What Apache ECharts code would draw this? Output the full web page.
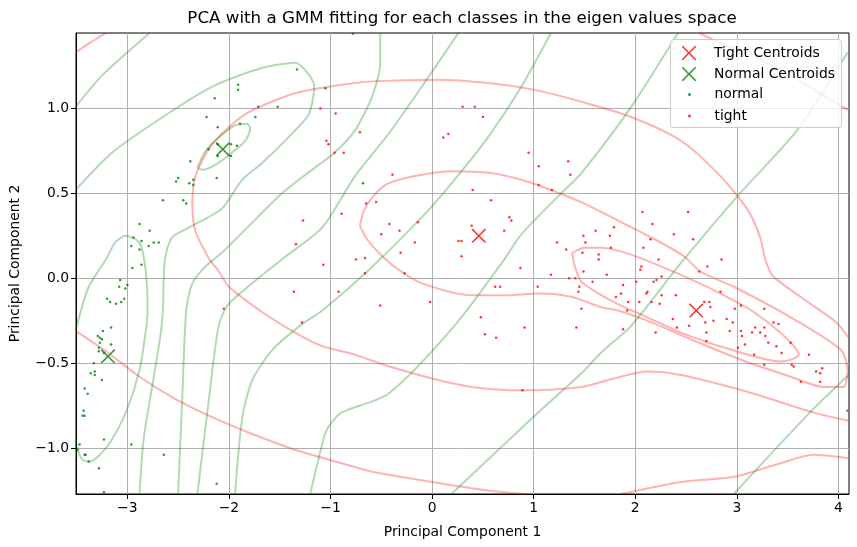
<!DOCTYPE html>
<html><head><meta charset="utf-8">
<script src="https://cdn.jsdelivr.net/npm/echarts@6/dist/echarts.min.js"></script>
<style>html,body{margin:0;padding:0;background:#fff}#c{width:857px;height:547px}</style>
</head><body><div id="c"></div>
<script>
const titleText = 'PCA with a GMM fitting for each classes in the eigen values space';
const xLabel = 'Principal Component 1';
const yLabel = 'Principal Component 2';
const xTicks = [-3,-2,-1,0,1,2,3,4];
const yTicks = [-1.0,-0.5,0.0,0.5,1.0];
const xRange = [-3.505, 4.104];
const yRange = [-1.271, 1.445];

const tightCentroids = [[0.46,0.25],[2.60,-0.19]];
const normalCentroids = [[-2.06,0.76],[-3.19,-0.46]];

const normalPts = [[-2.38,0.69],[-2.50,0.59],[-2.52,0.57],[-2.35,0.58],[-2.39,0.56],[-2.35,0.55],[-2.12,0.59],[-2.65,0.46],[-2.45,0.46],[-2.42,0.44],[-2.88,0.32],[-2.78,0.28],[-2.94,0.24],[-2.86,0.22],[-2.96,0.19],[-2.79,0.19],[-2.74,0.21],[-2.69,0.21],[-2.88,0.17],[-2.95,0.06],[-2.86,0.08],[-3.07,-0.01],[-3.08,-0.05],[-3.02,-0.06],[-3.00,-0.04],[-3.20,-0.12],[-3.17,-0.14],[-3.11,-0.15],[-3.06,-0.14],[-3.03,-0.12],[-3.16,-0.29],[-3.24,-0.31],[-3.29,-0.34],[-3.27,-0.35],[-3.25,-0.36],[-3.27,-0.38],[-3.16,-0.39],[-3.28,-0.41],[-3.28,-0.43],[-3.23,-0.44],[-3.33,-0.50],[-3.36,-0.56],[-3.32,-0.55],[-3.32,-0.57],[-3.25,-0.60],[-3.42,-0.65],[-3.39,-0.68],[-3.43,-0.78],[-3.44,-0.81],[-3.42,-0.81],[-3.47,-0.98],[-3.49,-1.01],[-3.23,-0.95],[-2.96,-0.98],[-3.42,-1.04],[-3.41,-1.04],[-3.38,-1.08],[-3.28,-1.12],[-2.64,-1.04],[-3.23,-1.26],[-2.12,-1.21],[-1.33,1.23],[-1.05,1.12],[-1.91,1.14],[-1.91,1.11],[-2.14,1.06],[-1.71,1.01],[-1.52,1.01],[-2.22,0.95],[-1.74,0.95],[-2.11,0.89],[-1.89,0.91],[-2.20,0.76],[-1.92,0.78],[-1.98,0.79],[-1.98,0.72],[-2.11,0.72],[-2.11,0.79],[-0.68,0.56],[-0.78,1.44]];

const tightPts = [[-0.95,0.97],[-1.04,0.81],[-1.02,0.79],[-0.96,0.74],[-1.27,0.34],[-1.34,0.20],[-1.07,0.08],[-0.89,0.38],[-0.71,0.86],[-0.87,0.74],[0.30,1.01],[0.42,1.01],[0.50,0.95],[0.11,0.83],[0.16,0.85],[0.95,0.74],[1.05,0.66],[1.34,0.69],[1.36,0.61],[1.05,0.55],[1.18,0.52],[-0.39,0.61],[0.40,0.52],[0.58,0.46],[-0.65,0.44],[-0.55,0.45],[-0.42,0.32],[-0.14,0.33],[-0.32,0.28],[-0.50,0.26],[-0.17,0.21],[-0.31,0.15],[-0.75,0.11],[-0.66,0.12],[0.26,0.22],[0.29,0.22],[0.39,0.31],[0.29,0.13],[0.76,0.36],[0.78,0.34],[0.71,0.28],[0.87,0.06],[1.23,0.21],[1.32,0.17],[1.49,0.25],[1.61,0.28],[1.51,0.21],[1.48,0.15],[1.64,0.14],[1.64,0.11],[-0.66,0.03],[-0.27,0.03],[-0.92,-0.08],[-0.51,-0.16],[-0.02,-0.14],[1.17,0.02],[0.62,-0.05],[0.67,-0.05],[1.04,-0.05],[1.35,0.00],[1.41,0.00],[1.49,0.04],[1.58,-0.02],[1.45,-0.05],[1.44,-0.08],[1.47,-0.18],[1.42,-0.29],[0.48,-0.23],[0.52,-0.33],[0.63,-0.35],[0.91,-0.29],[0.89,-0.66],[2.07,0.39],[2.52,0.39],[2.17,0.32],[2.38,0.26],[2.57,0.23],[2.15,0.23],[1.79,0.30],[1.75,0.25],[1.76,0.18],[2.08,0.18],[2.23,0.11],[2.06,0.07],[2.05,0.05],[2.63,0.04],[1.72,0.02],[1.88,-0.04],[2.01,-0.02],[2.18,-0.02],[2.21,-0.01],[2.26,0.01],[1.86,-0.09],[1.81,-0.11],[2.12,-0.08],[2.11,-0.09],[2.26,-0.10],[2.40,-0.10],[2.04,-0.14],[2.16,-0.14],[1.93,-0.14],[2.24,-0.15],[1.92,-0.19],[2.37,-0.24],[2.41,-0.29],[2.53,-0.28],[1.88,-0.30],[2.20,-0.32],[2.85,0.11],[2.71,0.07],[2.84,-0.08],[2.68,-0.14],[2.73,-0.14],[2.74,-0.17],[3.04,-0.16],[2.98,-0.18],[3.27,-0.18],[2.77,-0.25],[2.90,-0.24],[2.96,-0.26],[2.69,-0.26],[2.93,-0.31],[3.04,-0.31],[3.05,-0.34],[3.18,-0.29],[3.27,-0.29],[3.15,-0.32],[3.23,-0.32],[3.28,-0.34],[3.36,-0.26],[3.41,-0.27],[2.70,-0.32],[2.70,-0.37],[3.31,-0.38],[3.39,-0.40],[3.53,-0.38],[3.08,-0.39],[3.01,-0.41],[3.44,-0.44],[3.17,-0.45],[3.71,-0.45],[3.27,-0.51],[3.54,-0.51],[3.56,-0.52],[3.78,-0.55],[3.84,-0.53],[3.82,-0.56],[3.63,-0.61],[3.82,-0.61],[4.09,-0.78],[-2.05,-0.18],[-1.36,-0.08],[-1.28,-0.26],[-1.10,1.00]];

// tight-class GMM contours
const tightLevel1 = [[1.38,0.15],[1.50,0.18],[1.66,0.18],[1.85,0.16],[2.09,0.11],[2.45,0.02],[2.84,-0.09],[3.17,-0.20],[3.50,-0.36],[3.61,-0.45],[3.53,-0.48],[3.43,-0.49],[2.94,-0.42],[2.45,-0.32],[2.12,-0.23],[1.79,-0.14],[1.47,-0.02],[1.40,0.08],[1.38,0.15]];
const tightLevel2 = [[-0.71,0.31],[-0.67,0.40],[-0.57,0.49],[-0.43,0.56],[-0.10,0.61],[0.22,0.63],[0.58,0.62],[0.88,0.58],[1.17,0.52],[1.50,0.44],[1.83,0.34],[2.16,0.24],[2.48,0.13],[2.64,0.04],[2.97,-0.05],[3.53,-0.23],[4.02,-0.42],[4.09,-0.54],[4.05,-0.64],[3.85,-0.64],[3.53,-0.58],[3.04,-0.48],[2.55,-0.36],[2.16,-0.26],[1.83,-0.19],[1.66,-0.17],[1.38,-0.11],[1.06,-0.09],[0.71,-0.10],[0.39,-0.10],[-0.10,-0.03],[-0.33,0.05],[-0.49,0.13],[-0.64,0.23],[-0.71,0.31]];
const tightLevel3 = [[4.10,-0.84],[3.75,-0.79],[3.11,-0.67],[2.45,-0.57],[2.12,-0.55],[1.79,-0.59],[1.47,-0.64],[0.88,-0.66],[0.39,-0.64],[0.00,-0.59],[-0.42,-0.52],[-0.76,-0.45],[-1.08,-0.40],[-1.35,-0.32],[-1.67,-0.20],[-2.00,-0.05],[-2.11,0.05],[-2.19,0.11],[-2.33,0.28],[-2.36,0.44],[-2.33,0.60],[-2.19,0.77],[-2.00,0.89],[-1.80,0.98],[-1.35,1.09],[-0.89,1.14],[-0.59,1.16],[0.06,1.17],[0.55,1.15],[1.01,1.11],[1.47,1.04],[1.96,0.95],[2.45,0.81],[2.84,0.60],[3.11,0.40],[3.23,0.24],[3.28,0.11],[3.36,0.01],[3.70,-0.14],[3.98,-0.26],[4.10,-0.35]];
const tightLevel4a = [[-3.51,1.33],[-3.36,1.39],[-3.21,1.445]];
const tightLevel4b = [[2.63,1.445],[2.86,1.38],[3.11,1.33],[3.35,1.25],[3.60,1.17],[3.84,1.08],[4.10,0.99]];
const tightLevel4c = [[-3.51,-0.31],[-3.21,-0.43],[-2.88,-0.58],[-2.56,-0.70],[-2.23,-0.80],[-1.80,-0.91],[-1.35,-1.01],[-0.89,-1.09],[-0.59,-1.14],[0.00,-1.20],[0.55,-1.25],[0.91,-1.271]];
const tightLevel4d = [[1.86,-1.271],[2.45,-1.20],[2.97,-1.17],[3.43,-1.09],[3.75,-1.04],[4.10,-1.06]];

// normal-class GMM contours
const normalLevel1 = [[-2.31,0.65],[-2.23,0.75],[-2.10,0.83],[-1.94,0.90],[-1.82,0.91],[-1.79,0.88],[-1.84,0.81],[-1.97,0.74],[-2.13,0.67],[-2.26,0.64],[-2.31,0.65]];
const normalLevel1b = [[-3.51,-0.31],[-3.38,-0.05],[-3.21,0.11],[-3.12,0.21],[-3.02,0.25],[-2.88,0.21],[-2.82,0.05],[-2.80,-0.19],[-2.82,-0.32],[-2.88,-0.54],[-3.00,-0.77],[-3.15,-0.95],[-3.27,-1.04],[-3.37,-1.08],[-3.44,-1.07],[-3.49,-1.01],[-3.51,-0.95]];
const normalLevel2 = [[-3.51,0.52],[-3.15,0.74],[-2.65,0.95],[-2.16,1.13],[-1.67,1.24],[-1.35,1.27],[-1.16,1.13],[-1.21,0.97],[-1.35,0.87],[-1.67,0.68],[-1.87,0.58],[-2.07,0.41],[-2.39,0.30],[-2.56,0.24],[-2.63,0.11],[-2.65,-0.19],[-2.67,-0.32],[-2.75,-0.62],[-2.84,-0.95],[-2.88,-1.271]];
const normalLevel3a = [[-3.51,1.01],[-3.24,1.20],[-2.78,1.445]];
const normalLevel3b = [[-0.51,1.445],[-0.51,1.27],[-0.59,1.07],[-0.76,0.87],[-0.96,0.74],[-1.18,0.64],[-1.48,0.50],[-1.80,0.31],[-2.07,0.15],[-2.23,0.07],[-2.36,-0.03],[-2.42,-0.19],[-2.46,-0.72],[-2.50,-1.271]];
const normalLevel4 = [[0.26,1.445],[-0.10,1.13],[-0.43,0.85],[-0.76,0.60],[-1.08,0.30],[-1.48,0.11],[-2.00,-0.15],[-2.10,-0.28],[-2.19,-0.68],[-2.31,-1.271]];
const normalLevel5 = [[1.17,1.445],[0.88,1.13],[0.55,0.83],[0.22,0.58],[-0.10,0.36],[-0.62,0.05],[-1.08,-0.19],[-1.28,-0.27],[-1.57,-0.42],[-1.77,-0.60],[-1.87,-0.83],[-1.94,-1.271]];
const normalLevel6 = [[2.42,1.445],[1.96,1.01],[1.47,0.62],[1.27,0.50],[0.88,0.26],[0.71,0.11],[0.22,-0.28],[-0.43,-0.68],[-0.89,-0.79],[-0.99,-0.85],[-1.05,-0.91],[-1.12,-1.07],[-1.20,-1.271]];
const normalLevel7 = [[4.09,1.33],[3.59,0.87],[3.00,0.48],[2.45,0.09],[1.96,-0.28],[1.66,-0.44],[1.47,-0.56],[1.01,-0.81],[0.19,-1.271]];
const normalLevel8 = [[4.10,-0.57],[3.72,-0.79],[2.97,-1.271]];

const tightContours = [tightLevel1, tightLevel2, tightLevel3, tightLevel4a, tightLevel4b, tightLevel4c, tightLevel4d];
const normalContours = [normalLevel1, normalLevel1b, normalLevel2, normalLevel3a, normalLevel3b, normalLevel4, normalLevel5, normalLevel6, normalLevel7, normalLevel8];

const XPATH = 'path://M0,0 L1.6,0 L10,8.4 L18.4,0 L20,0 L20,1.6 L11.6,10 L20,18.4 L20,20 L18.4,20 L10,11.6 L1.6,20 L0,20 L0,18.4 L8.4,10 L0,1.6 Z';
const RED = '#ff0000', GREEN = '#008000';
const FONT = 'DejaVu Sans';

const chart = echarts.init(document.getElementById('c'), null, {renderer:'canvas'});
const minus = v => (v < 0 ? '\u2212' : '') + Math.abs(v);
const series = [];
tightContours.forEach(c => series.push({type:'line', data:c, smooth:0.25, showSymbol:false, silent:true, z:1,
  lineStyle:{color:RED, opacity:0.3, width:2}, clip:true}));
normalContours.forEach(c => series.push({type:'line', data:c, smooth:0.25, showSymbol:false, silent:true, z:1,
  lineStyle:{color:GREEN, opacity:0.3, width:2}, clip:true}));
series.push({name:'normal', type:'scatter', data:normalPts, symbol:'circle', symbolSize:2.5, itemStyle:{color:GREEN}, z:3, silent:true});
series.push({name:'tight', type:'scatter', data:tightPts, symbol:'circle', symbolSize:2.5, itemStyle:{color:RED}, z:3, silent:true});
series.push({name:'Tight Centroids', type:'scatter', data:tightCentroids, symbol:XPATH, symbolSize:14, itemStyle:{color:RED}, z:5, silent:true});
series.push({name:'Normal Centroids', type:'scatter', data:normalCentroids, symbol:XPATH, symbolSize:14, itemStyle:{color:GREEN}, z:5, silent:true});

chart.setOption({
  animation:false,
  backgroundColor:'#fff',
  textStyle:{fontFamily:FONT},
  grid:{left:73, right:8, top:33, bottom:53, show:true, borderColor:'#000', borderWidth:1, backgroundColor:'transparent'},
  graphic:[
    {type:'text', x:462, y:10, style:{text:titleText, font:'16.7px "DejaVu Sans"', fill:'#000', textAlign:'center'}},
    {type:'rect', shape:{x:670.5, y:39.5, width:171, height:88, r:3}, style:{fill:'rgba(255,255,255,0.8)', stroke:'#cccccc', lineWidth:1}, z:10}
  ],
  legend:[
    {data:['Tight Centroids','Normal Centroids'], orient:'vertical', left:682, top:45, itemWidth:40, itemHeight:14, itemGap:5,
     icon:XPATH, symbolKeepAspect:true, padding:0, z:11,
     textStyle:{fontFamily:FONT, fontSize:13.9, color:'#000', lineHeight:16}, selectedMode:false},
    {data:['normal','tight'], orient:'vertical', left:688, top:86.5, itemWidth:40, itemHeight:3, itemGap:5.5,
     icon:'circle', symbolKeepAspect:true, padding:0, z:11,
     textStyle:{fontFamily:FONT, fontSize:13.9, color:'#000', lineHeight:16}, selectedMode:false}
  ],
  xAxis:{type:'value', min:xRange[0], max:xRange[1], name:xLabel, nameLocation:'middle', nameGap:31,
    nameTextStyle:{fontFamily:FONT, fontSize:13.9, color:'#000'},
    axisLine:{show:true, onZero:false, lineStyle:{color:'#000'}},
    axisTick:{show:true, length:5, lineStyle:{color:'#000'}, customValues:xTicks},
    axisLabel:{customValues:xTicks, fontFamily:FONT, fontSize:13.9, color:'#000', margin:7, formatter:v=>minus(v)},
    splitLine:{show:true, lineStyle:{color:'#b0b0b0', width:1}}},
  yAxis:{type:'value', min:yRange[0], max:yRange[1], name:yLabel, nameLocation:'middle', nameGap:54, nameRotate:90,
    nameTextStyle:{fontFamily:FONT, fontSize:13.9, color:'#000'},
    axisLine:{show:true, onZero:false, lineStyle:{color:'#000'}},
    axisTick:{show:true, length:5, lineStyle:{color:'#000'}, customValues:yTicks},
    axisLabel:{customValues:yTicks, fontFamily:FONT, fontSize:13.9, color:'#000', margin:7, formatter:v=>(v<0?'\u2212':'')+Math.abs(v).toFixed(1)},
    splitLine:{show:true, lineStyle:{color:'#b0b0b0', width:1}}},
  series:series
});
</script></body></html>
